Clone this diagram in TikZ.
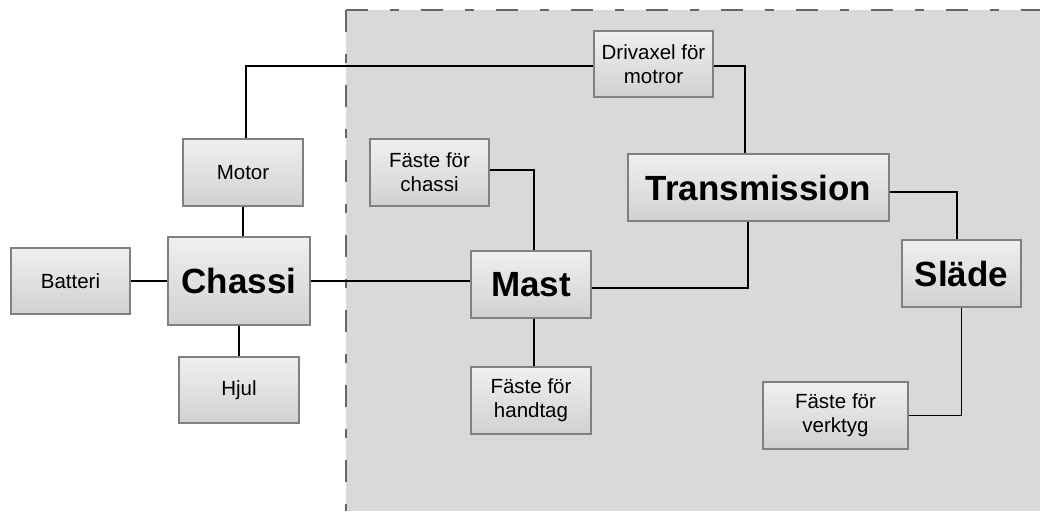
\documentclass[tikz,border=0pt]{standalone}
\usepackage{fontspec}
\setmainfont{Liberation Sans}
\begin{document}
\begin{tikzpicture}[x=1pt,y=-1pt,
  box/.style={draw=black!50, line width=1.3pt, top color=black!6, bottom color=black!18,
    inner sep=0pt, align=center, font=\fontsize{20.5}{24}\selectfont},
  bigbox/.style={box, font=\fontsize{35}{40}\selectfont\bfseries},
  conn/.style={draw=black, line width=1.5pt},
  border/.style={black!60, line width=2pt, dash pattern=on 22pt off 22pt on 9pt off 22pt}]
\useasboundingbox (0,0) rectangle (1040,511);
% gray region
\fill[black!15] (346,10) rectangle (1040,511);
\draw[border] (346,10) -- (1040,10);
\draw[border] (346,10) -- (346,511);
% nodes
\node[box, minimum width=120pt, minimum height=67pt] (motor) at (243,172.5) {Motor};
\node[bigbox, minimum width=142pt, minimum height=88pt] (chassi) at (239,281) {Chassi};
\node[box, minimum width=119pt, minimum height=66pt] (batteri) at (70.5,281) {Batteri};
\node[box, minimum width=120pt, minimum height=66pt] (hjul) at (239,390) {Hjul};
\node[box, minimum width=119pt, minimum height=66pt] (drivaxel) at (653.5,64) {Drivaxel för\\motror};
\node[box, minimum width=119pt, minimum height=67pt] (fchassi) at (429.5,172.5) {Fäste för\\chassi};
\node[bigbox, minimum width=120pt, minimum height=67pt] (mast) at (531,284.5) {Mast};
\node[box, minimum width=120pt, minimum height=67pt] (fhandtag) at (531,400.5) {Fäste för\\handtag};
\node[bigbox, minimum width=261pt, minimum height=67pt] (trans) at (758.5,187.5) {Transmission};
\node[bigbox, minimum width=119pt, minimum height=67pt] (slade) at (961.5,273.5) {Släde};
\node[box, minimum width=145pt, minimum height=67pt] (fverktyg) at (835.5,415.5) {Fäste för\\verktyg};
% connectors
\draw[conn] ([xshift=3pt]motor.north) |- ([yshift=-2pt]drivaxel.west);
\draw[conn] ([yshift=-2pt]drivaxel.east) -| ([xshift=-13.5pt]trans.north);
\draw[conn] (motor.south) -- (motor.south |- chassi.north);
\draw[conn] (chassi.south) -- (hjul.north);
\draw[conn] (batteri.east) -- (chassi.west);
\draw[conn, line width=2pt] (chassi.east) -- (mast.west |- chassi.east);
\draw[conn] ([yshift=2.5pt]fchassi.east) -| ([xshift=3pt]mast.north);
\draw[conn] ([xshift=3pt]mast.south) -- ([xshift=3pt]fhandtag.north);
\draw[conn] ([xshift=-10.5pt]trans.south) |- ([yshift=-3.5pt]mast.east);
\draw[conn] ([yshift=-4.5pt]trans.east) -| ([xshift=-4.5pt]slade.north);
\draw[conn] (slade.south) |- (fverktyg.east);
\end{tikzpicture}
\end{document}
